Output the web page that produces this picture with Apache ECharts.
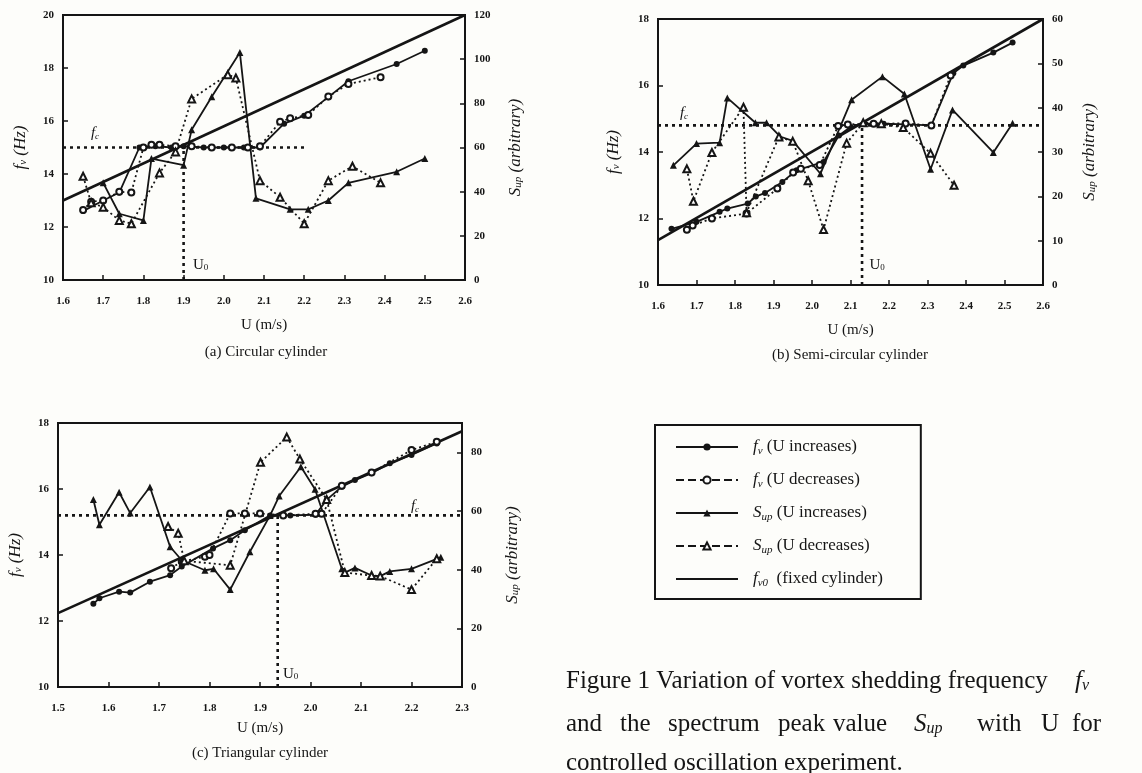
<!DOCTYPE html>
<html>
<head>
<meta charset="utf-8">
<script src="https://cdn.jsdelivr.net/npm/echarts@6/dist/echarts.min.js"></script>
<style>
html, body { margin: 0; background: #fdfdfa; }
#chart { width: 1142px; height: 773px; }
</style>
</head>
<body>
<div id="chart"></div>
<script>
// values: U in m/s, fv in Hz, Sup arbitrary

// (a) circular cylinder
const aFvIncU = [1.65, 1.70, 1.74, 1.79, 1.83, 1.87, 1.90, 1.95, 2.00, 2.05, 2.09, 2.15, 2.20, 2.26, 2.31, 2.43, 2.50];
const aFvInc  = [12.6, 13.0, 13.3, 15.0, 15.05, 15.0, 15.05, 15.0, 15.0, 15.0, 15.0, 15.9, 16.2, 16.9, 17.5, 18.15, 18.65];
const aFvDecU = [1.65, 1.67, 1.70, 1.74, 1.77, 1.80, 1.82, 1.84, 1.88, 1.92, 1.97, 2.02, 2.06, 2.09, 2.14, 2.165, 2.21, 2.26, 2.31, 2.39];
const aFvDec  = [12.64, 12.95, 13.0, 13.33, 13.3, 15.0, 15.1, 15.1, 15.05, 15.05, 15.0, 15.0, 15.0, 15.05, 15.97, 16.1, 16.23, 16.92, 17.4, 17.65];
const aSupIncU = [1.70, 1.74, 1.80, 1.82, 1.90, 1.92, 1.97, 2.04, 2.08, 2.165, 2.21, 2.26, 2.31, 2.43, 2.50];
const aSupInc  = [44, 30, 27, 55, 52, 68, 83, 103, 37, 32, 32, 36, 44, 49, 55];
const aSupDecU = [1.65, 1.67, 1.70, 1.74, 1.77, 1.84, 1.88, 1.92, 2.01, 2.03, 2.09, 2.14, 2.20, 2.26, 2.32, 2.39];
const aSupDec  = [47, 35, 33, 27, 25.5, 48.5, 58, 82, 93, 91.5, 45, 37.5, 25.5, 45, 51.5, 44];
const aFixU = [1.6, 2.6], aFix = [13, 20];
const aFcU = [1.6, 2.2], aFc = 15;
const aU0 = 1.9;

// (b) semi-circular cylinder
const bFvIncU = [1.635, 1.70, 1.76, 1.78, 1.833, 1.854, 1.878, 1.923, 1.96, 2.03, 2.07, 2.10, 2.137, 2.186, 2.243, 2.31, 2.367, 2.393, 2.471, 2.521];
const bFvInc  = [11.69, 11.9, 12.2, 12.3, 12.45, 12.66, 12.77, 13.1, 13.45, 13.7, 14.5, 14.75, 14.85, 14.85, 14.83, 14.8, 16.37, 16.6, 16.99, 17.29];
const bFvDecU = [1.675, 1.69, 1.74, 1.83, 1.91, 1.951, 1.971, 2.02, 2.068, 2.093, 2.16, 2.243, 2.31, 2.36];
const bFvDec  = [11.66, 11.79, 12.0, 12.15, 12.9, 13.38, 13.5, 13.61, 14.78, 14.83, 14.85, 14.86, 14.8, 16.3];
const bSupIncU = [1.64, 1.70, 1.76, 1.78, 1.853, 1.882, 1.917, 1.95, 2.022, 2.103, 2.183, 2.24, 2.308, 2.365, 2.471, 2.521];
const bSupInc  = [27, 31.9, 32.1, 42.2, 36.6, 36.6, 33.5, 32.5, 25.1, 41.8, 47, 43.1, 26.1, 39.5, 29.9, 36.5];
const bSupDecU = [1.675, 1.692, 1.74, 1.822, 1.83, 1.914, 1.95, 1.99, 2.03, 2.09, 2.133, 2.18, 2.237, 2.308, 2.369];
const bSupDec  = [26.2, 18.9, 29.9, 40.1, 16.3, 33.4, 32.4, 23.5, 12.5, 32, 36.6, 36.4, 35.5, 29.7, 22.5];
const bFixU = [1.6, 2.6], bFix = [11.35, 18];
const bFcU = [1.6, 2.6], bFc = 14.8;
const bU0 = 2.13;

// (c) triangular cylinder
const cFvIncU = [1.570, 1.582, 1.621, 1.643, 1.682, 1.722, 1.745, 1.807, 1.841, 1.870, 1.920, 1.96, 2.01, 2.032, 2.062, 2.088, 2.121, 2.157, 2.200, 2.250];
const cFvInc  = [12.52, 12.69, 12.89, 12.86, 13.19, 13.39, 13.65, 14.2, 14.45, 14.75, 15.2, 15.2, 15.22, 15.67, 16.07, 16.27, 16.48, 16.78, 17.03, 17.38];
const cFvDecU = [1.724, 1.745, 1.791, 1.80, 1.841, 1.87, 1.90, 1.946, 2.01, 2.022, 2.062, 2.121, 2.20, 2.25];
const cFvDec  = [13.6, 13.8, 13.95, 14.0, 15.26, 15.26, 15.26, 15.2, 15.25, 15.25, 16.1, 16.5, 17.18, 17.43];
const cSupIncU = [1.570, 1.582, 1.621, 1.643, 1.682, 1.722, 1.745, 1.791, 1.808, 1.841, 1.880, 1.920, 1.938, 1.981, 2.009, 2.062, 2.068, 2.088, 2.121, 2.138, 2.157, 2.200, 2.258];
const cSupInc  = [63.9, 55.3, 66.4, 59.3, 68.2, 47.8, 43.2, 39.8, 40.3, 33.2, 46.1, 58.5, 65.1, 75.1, 67.4, 40.3, 39, 40.6, 38, 37.8, 39.4, 40.3, 44.2];
const cSupDecU = [1.718, 1.738, 1.750, 1.841, 1.901, 1.953, 1.979, 2.032, 2.068, 2.121, 2.138, 2.20, 2.25];
const cSupDec  = [54.7, 52.4, 43, 41.5, 76.6, 85.2, 77.7, 63.9, 39, 38, 37.8, 33.2, 43.7];
const cFixU = [1.5, 2.3], cFix = [12.24, 17.75];
const cFcU = [1.5, 2.3], cFc = 15.2;
const cU0 = 1.935;

const FONT = '"Liberation Serif", "DejaVu Serif", serif';
const INK = '#151515';

const zip = (xs, ys) => xs.map((x, i) => [x, ys[i]]);

function rich(size) {
    return {
        i: { fontFamily: FONT, fontStyle: 'italic', fontSize: size, color: INK },
        s: { fontFamily: FONT, fontStyle: 'italic', fontSize: Math.round(size * 0.62), color: INK, verticalAlign: 'bottom' },
        n: { fontFamily: FONT, fontSize: size, color: INK },
        r: { fontFamily: FONT, fontSize: Math.round(size * 0.62), color: INK, verticalAlign: 'bottom' }
    };
}

function xAxisFor(g, min, max, gap) {
    return {
        type: 'value', gridIndex: g, min: min, max: max, interval: 0.1,
        name: 'U (m/s)', nameLocation: 'middle', nameGap: gap,
        nameTextStyle: { fontFamily: FONT, fontSize: 15, color: INK },
        axisLine: { onZero: false, lineStyle: { color: INK, width: 2 } },
        axisTick: { inside: true, length: 5, lineStyle: { color: INK, width: 1.5 } },
        axisLabel: { fontFamily: FONT, fontSize: 11, fontWeight: 'bold', color: INK, margin: 16,
            formatter: v => v.toFixed(1) },
        splitLine: { show: false }
    };
}

function yAxisFor(g, side, min, max, interval, name, gap, hideTop) {
    return {
        type: 'value', gridIndex: g, position: side, min: min, max: max, interval: interval,
        name: name, nameLocation: 'middle', nameRotate: 90, nameGap: gap,
        nameTextStyle: { rich: rich(17) },
        axisLine: { show: true, onZero: false, lineStyle: { color: INK, width: 2 } },
        axisTick: { show: true, inside: true, length: 5, lineStyle: { color: INK, width: 1.5 } },
        axisLabel: { fontFamily: FONT, fontSize: 11, fontWeight: 'bold', color: INK, margin: 9,
            formatter: v => (hideTop && v === max) ? '' : String(v) },
        splitLine: { show: false }
    };
}

function panelSeries(g, d) {
    const base = { type: 'line', xAxisIndex: g, silent: true, animation: false };
    const solid = { color: INK, width: 1.8 };
    const dotted = { color: INK, width: 1.8, type: [2, 3] };
    const guide = { color: INK, width: 2.6, type: [3, 4] };
    const hidden = { color: 'rgba(0,0,0,0)' };
    const labelStyle = (text, off) => ({ show: true, position: 'inside', offset: off, formatter: text, rich: rich(15) });
    return [
        Object.assign({}, base, { name: 'fvInc', yAxisIndex: 2 * g, data: zip(d.fvIncU, d.fvInc),
            symbol: 'circle', symbolSize: 6, itemStyle: { color: INK }, lineStyle: solid }),
        Object.assign({}, base, { name: 'fvDec', yAxisIndex: 2 * g, data: zip(d.fvDecU, d.fvDec),
            symbol: 'emptyCircle', symbolSize: 6, itemStyle: { color: INK, borderWidth: 1.3 }, lineStyle: dotted }),
        Object.assign({}, base, { name: 'supInc', yAxisIndex: 2 * g + 1, data: zip(d.supIncU, d.supInc),
            symbol: 'triangle', symbolSize: 7, itemStyle: { color: INK }, lineStyle: solid }),
        Object.assign({}, base, { name: 'supDec', yAxisIndex: 2 * g + 1, data: zip(d.supDecU, d.supDec),
            symbol: 'emptyTriangle', symbolSize: 7, itemStyle: { color: INK, borderWidth: 1.3 }, lineStyle: dotted }),
        Object.assign({}, base, { name: 'fv0', yAxisIndex: 2 * g, data: zip(d.fixU, d.fix),
            showSymbol: false, symbol: 'circle', itemStyle: { color: INK }, lineStyle: { color: INK, width: 2.6 } }),
        // locked-in frequency fc, horizontal guide
        Object.assign({}, base, { yAxisIndex: 2 * g, symbol: 'circle', symbolSize: 1, itemStyle: hidden, lineStyle: guide,
            data: d.fcU.map((u, i) => i === d.fcLabelAt
                ? { value: [u, d.fc], label: labelStyle('{i|f}{s|c}', d.fcOff) }
                : [u, d.fc]) }),
        // U0 vertical guide
        Object.assign({}, base, { yAxisIndex: 2 * g, symbol: 'circle', symbolSize: 1, itemStyle: hidden, lineStyle: guide,
            data: [{ value: [d.u0, 10], label: labelStyle('{n|U}{r|0}', d.u0Off) }, [d.u0, d.fc]] })
    ];
}

const panels = [
    { fvIncU: aFvIncU, fvInc: aFvInc, fvDecU: aFvDecU, fvDec: aFvDec, supIncU: aSupIncU, supInc: aSupInc,
      supDecU: aSupDecU, supDec: aSupDec, fixU: aFixU, fix: aFix, fcU: aFcU, fc: aFc, u0: aU0,
      fcLabelAt: 0, fcOff: [32, -14], u0Off: [17, -15] },
    { fvIncU: bFvIncU, fvInc: bFvInc, fvDecU: bFvDecU, fvDec: bFvDec, supIncU: bSupIncU, supInc: bSupInc,
      supDecU: bSupDecU, supDec: bSupDec, fixU: bFixU, fix: bFix, fcU: bFcU, fc: bFc, u0: bU0,
      fcLabelAt: 0, fcOff: [26, -12], u0Off: [15, -20] },
    { fvIncU: cFvIncU, fvInc: cFvInc, fvDecU: cFvDecU, fvDec: cFvDec, supIncU: cSupIncU, supInc: cSupInc,
      supDecU: cSupDecU, supDec: cSupDec, fixU: cFixU, fix: cFix, fcU: cFcU, fc: cFc, u0: cU0,
      fcLabelAt: 1, fcOff: [-47, -9], u0Off: [13, -13] }
];

const fvName = '{i|f}{s|v}{i| (Hz)}';
const supName = '{i|S}{s|up}{i| (arbitrary)}';

const legendText = {
    fvInc: '{i|f}{s|v} (U increases)',
    fvDec: '{i|f}{s|v} (U decreases)',
    supInc: '{i|S}{s|up} (U increases)',
    supDec: '{i|S}{s|up} (U decreases)',
    fv0: '{i|f}{s|v0}  (fixed cylinder)'
};

const captionRich = {
    i: { fontFamily: FONT, fontStyle: 'italic', fontSize: 25, fill: INK },
    s: { fontFamily: FONT, fontStyle: 'italic', fontSize: 16, fill: INK, verticalAlign: 'bottom' }
};
const capFont = '25px ' + FONT;
const line2 = [['and', 566], ['the', 620], ['spectrum', 668], ['peak', 778], ['value', 833],
    ['{i|S}{s|up}', 914], ['with', 977], ['U', 1041], ['for', 1072]];

const chart = echarts.init(document.getElementById('chart'));
chart.setOption({
    backgroundColor: '#fdfdfa',
    animation: false,
    grid: [
        { left: 63, top: 15, width: 402, height: 265, show: true, borderColor: INK, borderWidth: 2, backgroundColor: 'transparent' },
        { left: 658, top: 19, width: 385, height: 266, show: true, borderColor: INK, borderWidth: 2, backgroundColor: 'transparent' },
        { left: 58, top: 423, width: 404, height: 264, show: true, borderColor: INK, borderWidth: 2, backgroundColor: 'transparent' }
    ],
    xAxis: [
        xAxisFor(0, 1.6, 2.6, 38),
        xAxisFor(1, 1.6, 2.6, 38),
        xAxisFor(2, 1.5, 2.3, 34)
    ],
    yAxis: [
        yAxisFor(0, 'left', 10, 20, 2, fvName, 34),
        yAxisFor(0, 'right', 0, 120, 20, supName, 42),
        yAxisFor(1, 'left', 10, 18, 2, fvName, 36),
        yAxisFor(1, 'right', 0, 60, 10, supName, 38),
        yAxisFor(2, 'left', 10, 18, 2, fvName, 34),
        yAxisFor(2, 'right', 0, 90, 20, supName, 42, true)
    ],
    legend: {
        orient: 'vertical', left: 655, top: 425,
        padding: [12, 38, 10, 20], itemGap: 13, itemWidth: 62, itemHeight: 9,
        borderColor: INK, borderWidth: 2, backgroundColor: 'transparent',
        selectedMode: false,
        data: [
            { name: 'fvInc' },
            { name: 'fvDec', lineStyle: { type: 'dashed' } },
            { name: 'supInc' },
            { name: 'supDec', lineStyle: { type: 'dashed' } },
            { name: 'fv0', itemStyle: { opacity: 0 } }
        ],
        formatter: n => legendText[n],
        textStyle: { fontFamily: FONT, fontSize: 17, color: INK, lineHeight: 20, padding: [0, 0, 0, 10], rich: rich(17) }
    },
    graphic: [
        { type: 'text', x: 266, y: 352, style: { text: '(a) Circular cylinder', font: '15px ' + FONT, fill: INK, align: 'center', verticalAlign: 'middle' } },
        { type: 'text', x: 850, y: 355, style: { text: '(b) Semi-circular cylinder', font: '15px ' + FONT, fill: INK, align: 'center', verticalAlign: 'middle' } },
        { type: 'text', x: 260, y: 753, style: { text: '(c) Triangular cylinder', font: '15px ' + FONT, fill: INK, align: 'center', verticalAlign: 'middle' } },
        { type: 'text', x: 566, y: 681, style: { text: 'Figure 1 Variation of vortex shedding frequency', font: capFont, fill: INK, verticalAlign: 'middle' } },
        { type: 'text', x: 1075, y: 681, style: { text: '{i|f}{s|v}', rich: captionRich, font: capFont, fill: INK, verticalAlign: 'middle' } }
    ].concat(line2.map(w => ({ type: 'text', x: w[1], y: 724,
        style: { text: w[0], rich: captionRich, font: capFont, fill: INK, verticalAlign: 'middle' } })))
     .concat([
        { type: 'text', x: 566, y: 763, style: { text: 'controlled oscillation experiment.', font: capFont, fill: INK, verticalAlign: 'middle' } }
    ]),
    series: [].concat(panelSeries(0, panels[0]), panelSeries(1, panels[1]), panelSeries(2, panels[2]))
});
</script>
</body>
</html>
